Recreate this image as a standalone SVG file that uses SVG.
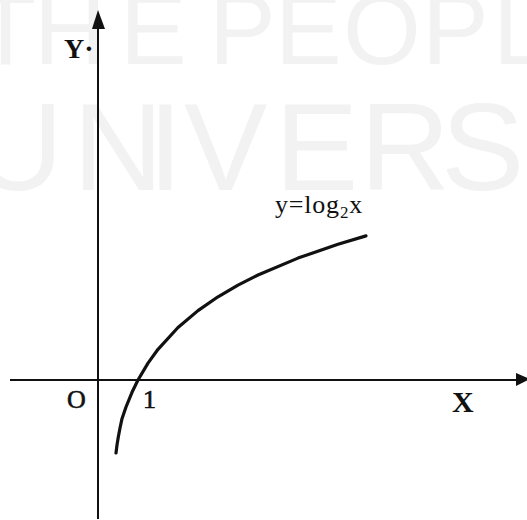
<svg xmlns="http://www.w3.org/2000/svg" width="527" height="520" viewBox="0 0 527 520">
<style>
.wm{font-family:"Liberation Sans",Arial,sans-serif;fill:#f2f2f2}
.ax{stroke:#111;stroke-width:2;fill:none}
.lbl{font-family:"Liberation Serif","Times New Roman",serif;fill:#111}
</style>
<rect width="527" height="520" fill="#fff"/>
<g id="watermark">
<text class="wm" font-size="100" y="64" x="-25 34 120 209 209 275 343 422 493 549 569">THE PEOPLE'S</text>
<text class="wm" font-size="125" y="190" x="-27 73 148 184 275 360 441 520 540 600">UNIVERSITY</text>
</g>
<g id="axes">
<line class="ax" x1="98" y1="26" x2="98" y2="519"/>
<polygon points="98,10 92,29 105,29" fill="#111"/>
<line class="ax" x1="10" y1="380" x2="518" y2="380"/>
<polygon points="530,379 516,373 516,386" fill="#111"/>
</g>
<g id="curve">
<path d="M116,453 L117,445 L118.3,437 L120,428 L122,418.7 L126,407 L132,392.3 L138,380 L148,363.1 L158,349.3 L178,327.5 L198,310.6 L218,296.8 L238,285.1 L258,275 L298,258.1 L338,244.3 L366,235.9" stroke="#111" stroke-width="3.2" fill="none" stroke-linecap="round" stroke-linejoin="round"/>
</g>
<g id="labels">
<text class="lbl" x="64" y="58" font-size="28" font-weight="bold">Y·</text>
<text class="lbl" x="67" y="408" font-size="26" stroke="#111" stroke-width="0.6">O</text>
<text class="lbl" x="143" y="408" font-size="26" stroke="#111" stroke-width="0.6">1</text>
<text class="lbl" x="452" y="412" font-size="30" font-weight="bold">X</text>
<text class="lbl" x="275" y="213" font-size="26" letter-spacing="0.8">y=log<tspan font-size="17" dy="5">2</tspan><tspan dy="-5">x</tspan></text>
</g>
</svg>
